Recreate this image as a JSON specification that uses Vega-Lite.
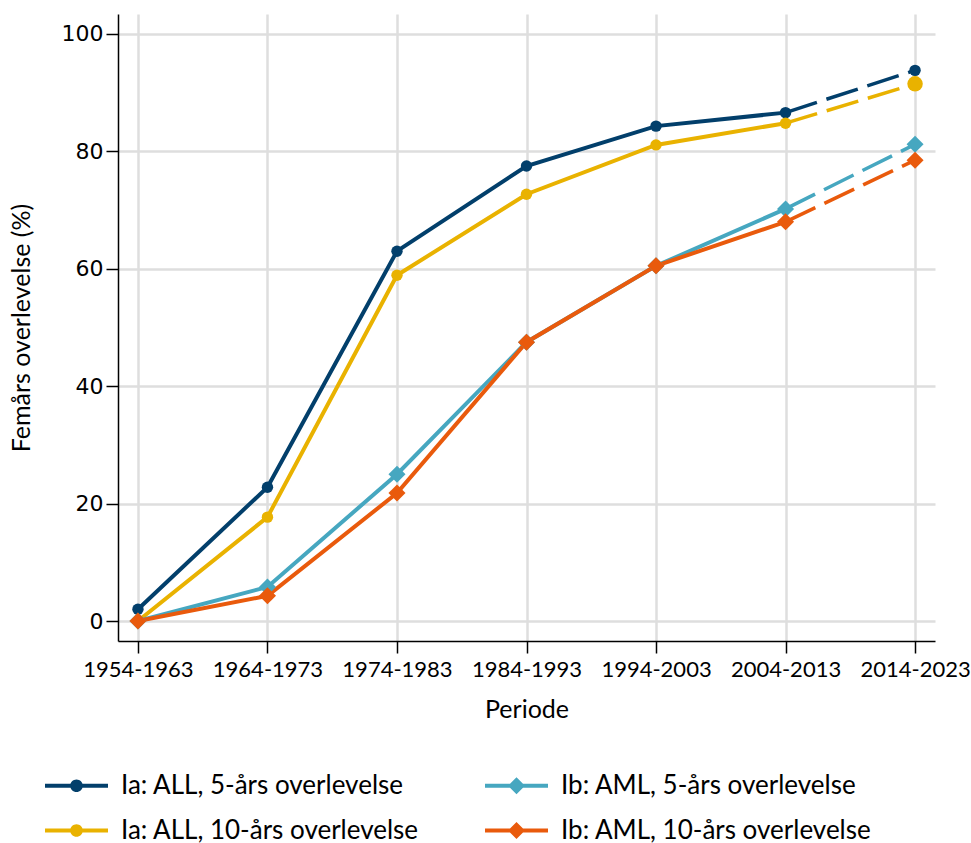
{
  "$schema": "https://vega.github.io/schema/vega-lite/v6.json",
  "width": 817,
  "height": 627,
  "autosize": "none",
  "padding": {"left": 118, "top": 14, "right": 36, "bottom": 202},
  "background": "white",
  "config": {
    "view": {"stroke": null},
    "font": "Lato"
  },
  "data": {
    "values": [
      {"periode": "1954-1963", "serie": "Ia: ALL, 5-års overlevelse", "gruppe": "ALL", "verdi": 2.0},
      {"periode": "1964-1973", "serie": "Ia: ALL, 5-års overlevelse", "gruppe": "ALL", "verdi": 22.8},
      {"periode": "1974-1983", "serie": "Ia: ALL, 5-års overlevelse", "gruppe": "ALL", "verdi": 63.0},
      {"periode": "1984-1993", "serie": "Ia: ALL, 5-års overlevelse", "gruppe": "ALL", "verdi": 77.5},
      {"periode": "1994-2003", "serie": "Ia: ALL, 5-års overlevelse", "gruppe": "ALL", "verdi": 84.3},
      {"periode": "2004-2013", "serie": "Ia: ALL, 5-års overlevelse", "gruppe": "ALL", "verdi": 86.6},
      {"periode": "2014-2023", "serie": "Ia: ALL, 5-års overlevelse", "gruppe": "ALL", "verdi": 93.8},
      {"periode": "1954-1963", "serie": "Ia: ALL, 10-års overlevelse", "gruppe": "ALL", "verdi": 0.0},
      {"periode": "1964-1973", "serie": "Ia: ALL, 10-års overlevelse", "gruppe": "ALL", "verdi": 17.7},
      {"periode": "1974-1983", "serie": "Ia: ALL, 10-års overlevelse", "gruppe": "ALL", "verdi": 58.9},
      {"periode": "1984-1993", "serie": "Ia: ALL, 10-års overlevelse", "gruppe": "ALL", "verdi": 72.7},
      {"periode": "1994-2003", "serie": "Ia: ALL, 10-års overlevelse", "gruppe": "ALL", "verdi": 81.1},
      {"periode": "2004-2013", "serie": "Ia: ALL, 10-års overlevelse", "gruppe": "ALL", "verdi": 84.8},
      {"periode": "2014-2023", "serie": "Ia: ALL, 10-års overlevelse", "gruppe": "ALL", "verdi": 91.5},
      {"periode": "1954-1963", "serie": "Ib: AML, 5-års overlevelse", "gruppe": "AML", "verdi": 0.0},
      {"periode": "1964-1973", "serie": "Ib: AML, 5-års overlevelse", "gruppe": "AML", "verdi": 5.8},
      {"periode": "1974-1983", "serie": "Ib: AML, 5-års overlevelse", "gruppe": "AML", "verdi": 25.0},
      {"periode": "1984-1993", "serie": "Ib: AML, 5-års overlevelse", "gruppe": "AML", "verdi": 47.5},
      {"periode": "1994-2003", "serie": "Ib: AML, 5-års overlevelse", "gruppe": "AML", "verdi": 60.5},
      {"periode": "2004-2013", "serie": "Ib: AML, 5-års overlevelse", "gruppe": "AML", "verdi": 70.2},
      {"periode": "2014-2023", "serie": "Ib: AML, 5-års overlevelse", "gruppe": "AML", "verdi": 81.2},
      {"periode": "1954-1963", "serie": "Ib: AML, 10-års overlevelse", "gruppe": "AML", "verdi": 0.0},
      {"periode": "1964-1973", "serie": "Ib: AML, 10-års overlevelse", "gruppe": "AML", "verdi": 4.3},
      {"periode": "1974-1983", "serie": "Ib: AML, 10-års overlevelse", "gruppe": "AML", "verdi": 21.8},
      {"periode": "1984-1993", "serie": "Ib: AML, 10-års overlevelse", "gruppe": "AML", "verdi": 47.5},
      {"periode": "1994-2003", "serie": "Ib: AML, 10-års overlevelse", "gruppe": "AML", "verdi": 60.5},
      {"periode": "2004-2013", "serie": "Ib: AML, 10-års overlevelse", "gruppe": "AML", "verdi": 68.0},
      {"periode": "2014-2023", "serie": "Ib: AML, 10-års overlevelse", "gruppe": "AML", "verdi": 78.5}
    ]
  },
  "encoding": {
    "x": {
      "field": "periode", "type": "ordinal",
      "scale": {"type": "point", "padding": 0.154},
      "axis": {
        "title": "Periode", "titleFont": "Lato", "titleFontSize": 25, "titleFontWeight": "normal", "titleColor": "black", "titlePadding": 17,
        "labelAngle": 0, "labelFont": "Lato", "labelFontSize": 22, "labelColor": "black", "labelPadding": 6,
        "domainColor": "black", "domainWidth": 1.5, "tickColor": "black", "tickWidth": 1.5, "tickSize": 12,
        "grid": true, "gridColor": "#DEDEDE", "gridWidth": 2.5
      }
    },
    "y": {
      "field": "verdi", "type": "quantitative",
      "scale": {"domain": [-3.4, 103.4], "nice": false, "zero": false},
      "axis": {
        "title": "Femårs overlevelse (%)", "titleFont": "Lato", "titleFontSize": 25, "titleFontWeight": "normal", "titleColor": "black", "titlePadding": 27,
        "values": [0, 20, 40, 60, 80, 100],
        "labelFont": "DejaVu Sans", "labelFontSize": 22, "labelColor": "black", "labelPadding": 3,
        "domainColor": "black", "domainWidth": 1.5, "tickColor": "black", "tickWidth": 1.5, "tickSize": 12,
        "grid": true, "gridColor": "#DEDEDE", "gridWidth": 2.5
      }
    },
    "color": {
      "field": "serie", "type": "nominal",
      "scale": {
        "domain": ["Ia: ALL, 5-års overlevelse", "Ib: AML, 5-års overlevelse", "Ia: ALL, 10-års overlevelse", "Ib: AML, 10-års overlevelse"],
        "range": ["#023F6B", "#46A7C0", "#E9B200", "#E95A0C"]
      },
      "legend": {
        "title": null,
        "orient": "none",
        "legendX": -73,
        "legendY": 740,
        "direction": "horizontal",
        "columns": 2,
        "columnPadding": 66,
        "rowPadding": -18,
        "symbolSize": 3969,
        "symbolStrokeWidth": 0,
        "labelFont": "Lato",
        "labelFontSize": 26,
        "labelColor": "black",
        "labelOffset": 13,
        "labelLimit": 450,
        "encode": {
          "symbols": {
            "update": {
              "shape": {"signal": "test(/AML/, datum.value) ? 'M-1,-0.065L1,-0.065L1,0.065L-1,0.065Z M-0.27,0L0,-0.27L0.27,0L0,0.27Z' : 'M-1,-0.065L1,-0.065L1,0.065L-1,0.065Z M-0.2,0A0.2,0.2 0 1,1 0.2,0A0.2,0.2 0 1,1 -0.2,0Z'"},
              "fill": {"scale": "color", "field": "value"},
              "strokeWidth": {"value": 0},
              "opacity": {"value": 1}
            }
          }
        }
      }
    }
  },
  "layer": [
    {
      "transform": [{"filter": "datum.periode != '2014-2023'"}],
      "mark": {"type": "line", "strokeWidth": 4}
    },
    {
      "transform": [{"filter": "datum.periode == '2004-2013' || datum.periode == '2014-2023'"}],
      "mark": {"type": "line", "strokeWidth": 3.5, "strokeDash": [33, 10]}
    },
    {
      "mark": {"type": "point", "filled": true, "opacity": 1, "strokeWidth": 0},
      "encoding": {
        "shape": {"field": "gruppe", "type": "nominal", "scale": {"domain": ["ALL", "AML"], "range": ["circle", "diamond"]}, "legend": null},
        "size": {"field": "gruppe", "type": "nominal", "scale": {"domain": ["ALL", "AML"], "range": [130, 290]}, "legend": null}
      }
    },
    {
      "transform": [{"filter": "datum.periode == '2014-2023' && datum.serie == 'Ia: ALL, 10-års overlevelse'"}],
      "mark": {"type": "point", "filled": true, "opacity": 1, "strokeWidth": 0, "shape": "circle", "size": 240}
    }
  ]
}
